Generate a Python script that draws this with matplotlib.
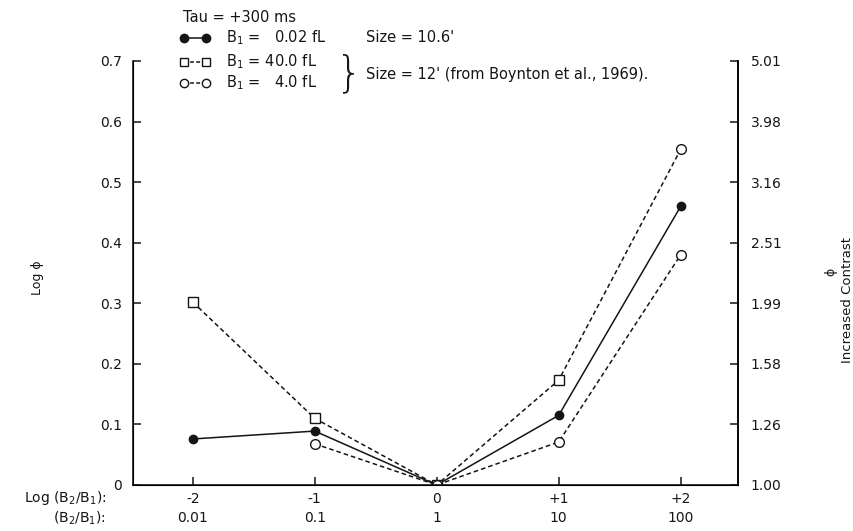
import matplotlib
matplotlib.use('Agg')
import matplotlib.pyplot as plt
from matplotlib.lines import Line2D

plt.rcParams['font.family'] = ['DejaVu Sans']

# log(B2/B1) positions and the two rows of x labels
log_ratio = [-2, -1, 0, 1, 2]
log_labels = ['-2', '-1', '0', '+1', '+2']
ratio_labels = ['0.01', '0.1', '1', '10', '100']

# log phi for each adapting luminance
dim_x = [-2, -1, 0, 1, 2]
dim_y = [0.076, 0.089, 0.0, 0.115, 0.46]      # B1 = 0.02 fL
bright_x = [-2, -1, 0, 1, 2]
bright_y = [0.302, 0.110, 0.0, 0.173, 0.554]  # B1 = 40.0 fL
mid_x = [-1, 0, 1, 2]
mid_y = [0.068, 0.0, 0.071, 0.38]             # B1 = 4.0 fL

yticks = [0, 0.1, 0.2, 0.3, 0.4, 0.5, 0.6, 0.7]
ylabels = ['0', '0.1', '0.2', '0.3', '0.4', '0.5', '0.6', '0.7']
phi_labels = ['1.00', '1.26', '1.58', '1.99', '2.51', '3.16', '3.98', '5.01']

ink = '#151515'
fs = 10
kfs = 10.5

fig = plt.figure(figsize=(8.54, 5.31), dpi=100)
ax = fig.add_axes([133/854, 1-485/531, 605/854, (485-61)/531])

ax.plot(dim_x, dim_y, '-', color=ink, lw=1.1, marker='o', ms=6,
        mfc=ink, mec=ink)
ax.plot(bright_x, bright_y, '--', color=ink, lw=1.1, dashes=(3, 2))
ax.plot(bright_x[:-1], bright_y[:-1], 's', ms=7, mfc='white', mec=ink, mew=1)
ax.plot(bright_x[-1:], bright_y[-1:], 'o', ms=7, mfc='white', mec=ink, mew=1)
ax.plot(mid_x, mid_y, '--', color=ink, lw=1.1, dashes=(3, 2),
        marker='o', ms=7, mfc='white', mec=ink, mew=1)

ax.set_xlim(-2.49, 2.47)
ax.set_ylim(0, 0.7)
ax.spines['top'].set_visible(False)
for s in ['left', 'right', 'bottom']:
    ax.spines[s].set_linewidth(1.2)
    ax.spines[s].set_color(ink)

ax.set_xticks(log_ratio)
ax.set_xticklabels([a + '\n' + b for a, b in zip(log_labels, ratio_labels)],
                   linespacing=1.45)
ax.set_yticks(yticks)
ax.set_yticklabels(ylabels)
ax.tick_params(direction='in', length=6, width=1.1, colors=ink,
               labelsize=fs, labelcolor=ink)
ax.tick_params(axis='x', pad=5)
ax.tick_params(axis='y', pad=8)

# right-hand scale: phi = 10**log phi
ax2 = ax.twinx()
ax2.set_ylim(0, 0.7)
ax2.set_yticks(yticks)
ax2.set_yticklabels(phi_labels)
ax2.spines['top'].set_visible(False)
ax2.spines['right'].set_linewidth(1.2)
ax2.tick_params(direction='in', length=6, width=1.1, colors=ink,
                labelsize=fs, labelcolor=ink, pad=9)

fig.text(38/854, 1-278/531, 'Log ϕ', rotation=90, ha='center', va='center',
         fontsize=9, color=ink)
fig.text(831/854, 1-272/531, 'ϕ', rotation=90, ha='center', va='center',
         fontsize=9, color=ink)
fig.text(848/854, 1-300/531, 'Increased Contrast', rotation=90,
         ha='center', va='center', fontsize=9.5, color=ink)

fig.text(106/854, 1-498/531, 'Log (B$_2$/B$_1$):', ha='right', va='center',
         fontsize=fs, color=ink)
fig.text(106/854, 1-518/531, '(B$_2$/B$_1$):', ha='right', va='center',
         fontsize=fs, color=ink)

# key
fig.text(183/854, 1-18/531, 'Tau = +300 ms', ha='left', va='center',
         fontsize=kfs, color=ink)
key = [
    (38, '-', 'o', ink, 'B$_1$ =   0.02 fL'),
    (62, '--', 's', 'white', 'B$_1$ = 40.0 fL'),
    (83, '--', 'o', 'white', 'B$_1$ =   4.0 fL'),
]
for ky, ls, mk, fc, label in key:
    yy = 1 - ky/531
    fig.add_artist(Line2D([184/854, 206/854], [yy, yy], ls=ls, color=ink,
                          lw=1.1, dashes=(2.5, 1.5) if ls == '--' else (None, None),
                          transform=fig.transFigure))
    fig.add_artist(Line2D([184/854, 206/854], [yy, yy], ls='none', marker=mk,
                          ms=6, mfc=fc, mec=ink, transform=fig.transFigure))
    fig.text(226/854, yy, label, ha='left', va='center', fontsize=kfs, color=ink)
fig.text(366/854, 1-38/531, "Size = 10.6'", ha='left', va='center',
         fontsize=kfs, color=ink)
fig.text(349/854, 1-74/531, '}', ha='center', va='center', fontsize=30,
         color=ink, fontweight='light')
fig.text(366/854, 1-74/531, "Size = 12' (from Boynton et al., 1969).",
         ha='left', va='center', fontsize=kfs, color=ink)

fig.savefig('out.png', dpi=100)
